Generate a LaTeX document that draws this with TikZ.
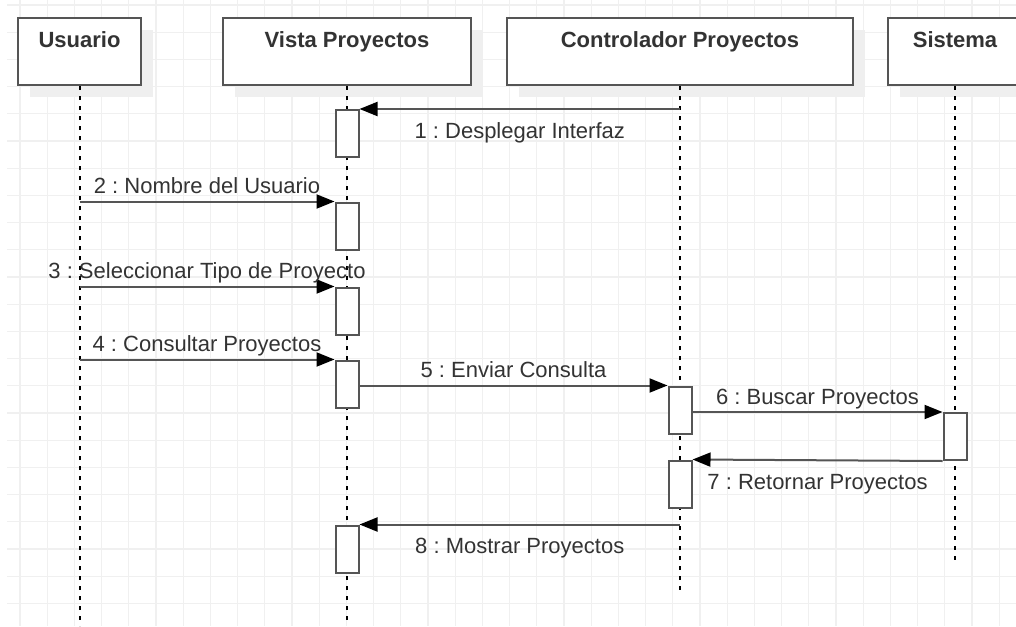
\documentclass[tikz,border=0pt]{standalone}
\usepackage{fontspec}
\setmainfont{Liberation Sans}
\usetikzlibrary{arrows.meta,positioning,shadows}
\definecolor{linegray}{HTML}{555555}
\definecolor{textgray}{HTML}{333333}
\definecolor{gridgray}{HTML}{F0F0F0}
\definecolor{shadowgray}{HTML}{EFEFEF}
\frenchspacing
\begin{document}
\begin{tikzpicture}[x=1pt,y=-1pt,
  lifebox/.style={draw=linegray,line width=2pt,fill=white,minimum height=67pt,inner sep=0pt,
    drop shadow={shadow xshift=12pt,shadow yshift=-12pt,fill=shadowgray,opacity=1}},
  lifename/.style={font=\fontsize{22}{26}\selectfont\bfseries,text=textgray,inner sep=0pt,text height=16pt,text depth=0pt},
  act/.style={draw=linegray,line width=2pt,fill=white,minimum width=23pt,minimum height=47pt,inner sep=0pt},
  lifeline/.style={black,line width=2pt,dash pattern=on 4pt off 6pt},
  msg/.style={draw=linegray,line width=2pt,-{Triangle[length=18pt,width=14pt,color=black]}},
  msgtext/.style={font=\fontsize{22}{26}\selectfont,text=textgray,inner sep=0pt,text height=16pt,text depth=0pt}]
\useasboundingbox (0,0) rectangle (1016,626);
\fill[white] (0,0) rectangle (1016,626);
\foreach \gx in {0,...,36} \draw[gridgray,line width=1.2pt] ({20+27.2*\gx},0) -- ({20+27.2*\gx},626);
\foreach \gy in {0,...,22} \draw[gridgray,line width=1.2pt] (7,{5+27.2*\gy}) -- (1016,{5+27.2*\gy});
\node[lifebox,minimum width=123pt] (usuario) at (79.5,51.5) {};
\node[lifename,below=14pt of usuario.north] (usuarioname) {Usuario};
\node[lifebox,minimum width=248pt] (vista) at (347,51.5) {};
\node[lifename,below=14pt of vista.north] (vistaname) {Vista Proyectos};
\node[lifebox,minimum width=346pt] (control) at (680,51.5) {};
\node[lifename,below=14pt of control.north] (controlname) {Controlador Proyectos};
\node[lifebox,minimum width=134pt] (sistema) at (955,51.5) {};
\node[lifename,below=14pt of sistema.north] (sistemaname) {Sistema};
\coordinate (usuarioend) at (79.5,626);
\coordinate (vistaend) at (347,623);
\coordinate (controlend) at (680,590);
\coordinate (sistemaend) at (955,560);
\draw[lifeline] (usuario) -- (usuarioend);
\draw[lifeline] (vista) -- (vistaend);
\draw[lifeline] (control) -- (controlend);
\draw[lifeline] (sistema) -- (sistemaend);
\node[act] (vact1) at (347,133.5) {};
\node[act] (vact2) at (347,226) {};
\node[act] (vact3) at (347,311) {};
\node[act] (vact4) at (347,384) {};
\node[act] (cact5) at (680,410) {};
\node[act] (sact6) at (955,436.5) {};
\node[act] (cact7) at (680,484) {};
\node[act] (vact8) at (347,549) {};
\draw[msg] (control |- vact1.north) -- node[msgtext,below=12pt] (m1) {1 : Desplegar Interfaz} (vact1.north east);
\draw[msg] (usuario |- vact2.north) -- node[msgtext,above=7pt] (m2) {2 : Nombre del Usuario} (vact2.north west);
\draw[msg] (usuario |- vact3.north) -- node[msgtext,above=7pt] (m3) {3 : Seleccionar Tipo de Proyecto} (vact3.north west);
\draw[msg] (usuario |- vact4.north) -- node[msgtext,above=7pt] (m4) {4 : Consultar Proyectos} (vact4.north west);
\draw[msg] (vact4.east |- cact5.north) -- node[msgtext,above=7pt] (m5) {5 : Enviar Consulta} (cact5.north west);
\draw[msg] (cact5.east |- sact6.north) -- node[msgtext,above=7pt] (m6) {6 : Buscar Proyectos} (sact6.north west);
\draw[msg] (sact6.south west) -- node[msgtext,below=12pt] (m7) {7 : Retornar Proyectos} (cact7.north east);
\draw[msg] (control |- vact8.north) -- node[msgtext,below=12pt] (m8) {8 : Mostrar Proyectos} (vact8.north east);
\end{tikzpicture}
\end{document}
